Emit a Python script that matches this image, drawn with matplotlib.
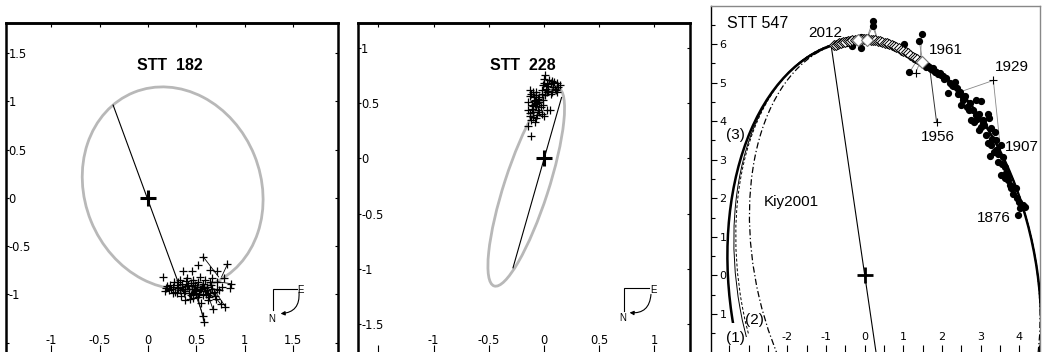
import numpy as np
import matplotlib
matplotlib.use('Agg')
import matplotlib.pyplot as plt
from matplotlib.patches import Ellipse, Polygon

plt.rcParams['font.family'] = ['Liberation Sans', 'DejaVu Sans']
plt.rcParams['axes.unicode_minus'] = False

# ---------------- data: panel 1 (STT 182) ----------------
p1_title = 'STT  182'
p1_orbit = [0.255, 0.10, 1.82, 2.14, 22.0]          # cx, cy, width, height, angle
p1_node_x = [-0.36, 0.31]
p1_node_y = [0.96, -0.87]
p1_obs_x = [0.57, 0.82, 0.15, 0.52, 0.64, 0.36, 0.45, 0.71, 0.79, 0.86, 0.76, 0.19, 0.24, 0.23,
            0.30, 0.33, 0.40, 0.47, 0.54, 0.59, 0.66, 0.71, 0.35, 0.42, 0.49, 0.54, 0.61, 0.66,
            0.71, 0.30, 0.37, 0.44, 0.50, 0.57, 0.64, 0.69, 0.38, 0.47, 0.55, 0.62, 0.75, 0.80,
            0.67, 0.57, 0.58, 0.18, 0.85, 0.27, 0.52, 0.44,
            0.20, 0.22, 0.26, 0.28, 0.31, 0.33, 0.35, 0.38, 0.40, 0.42, 0.45, 0.47, 0.49, 0.51,
            0.53, 0.55, 0.57, 0.59, 0.61, 0.63, 0.65, 0.68, 0.70, 0.73, 0.34, 0.39, 0.43, 0.48,
            0.52, 0.56, 0.60, 0.64, 0.41, 0.46, 0.50, 0.58, 0.62, 0.26, 0.31, 0.36]
p1_obs_y = [-0.61, -0.69, -0.82, -0.70, -0.75, -0.76, -0.76, -0.76, -0.83, -0.89, -0.92, -0.93,
            -0.95, -0.90, -0.90, -0.85, -0.83, -0.85, -0.82, -0.85, -0.83, -0.87, -0.92, -0.94,
            -0.90, -0.94, -0.92, -0.94, -0.95, -0.99, -0.99, -1.01, -0.99, -1.01, -0.99, -1.02,
            -1.06, -1.04, -1.09, -1.06, -1.10, -1.13, -1.15, -1.22, -1.29, -0.97, -0.93, -0.87,
            -0.87, -0.88,
            -0.91, -0.96, -0.92, -0.98, -0.93, -0.96, -0.89, -0.97, -0.91, -0.99, -0.95, -0.88,
            -0.97, -0.92, -1.00, -0.95, -0.89, -0.97, -0.96, -1.03, -0.90, -0.98, -1.05, -0.96,
            -1.02, -0.86, -1.05, -0.94, -1.03, -0.92, -1.00, -0.87, -0.90, -1.00, -0.96, -0.93,
            -1.01, -0.99, -0.87, -0.94]
p1_res_x0 = [0.57, 0.82, 0.58, 0.57, 0.67, 0.75, 0.80, 0.86]
p1_res_y0 = [-0.61, -0.69, -1.29, -1.22, -1.15, -1.10, -1.13, -0.89]
p1_res_x1 = [0.73, 0.76, 0.50, 0.48, 0.60, 0.62, 0.66, 0.72]
p1_res_y1 = [-0.82, -0.82, -0.97, -0.97, -0.95, -0.93, -0.92, -0.87]
p1_xticks = [-1, -0.5, 0, 0.5, 1, 1.5]
p1_xticklabels = ['-1', '-0.5', '0', '0.5', '1', '1.5']
p1_yticks = [-1.5, -1, -0.5, 0, 0.5, 1, 1.5]
p1_yticklabels = ['', '-1', '-0.5', '0', '0.5', '1', '1.5']

# ---------------- data: panel 2 (STT 228) ----------------
p2_title = 'STT  228'
p2_orbit = [-0.16, -0.26, 1.88, 0.40, 72.0]
p2_node_x = [-0.28, 0.16]
p2_node_y = [-0.99, 0.55]
p2_obs_x = [0.01, 0.15, 0.07, 0.00, 0.04, 0.10, -0.02, 0.03, 0.07, 0.12, 0.06, 0.01, -0.10, -0.07,
            -0.13, -0.08, -0.14, -0.04, -0.11, -0.07, -0.01, -0.14, -0.10, -0.04, 0.03, -0.13,
            -0.07, 0.00, -0.08, -0.14, -0.12, -0.05, -0.01, -0.02, 0.055, -0.13,
            0.02, 0.05, 0.08, 0.11, 0.13, -0.01, 0.04, 0.09, 0.06, 0.12, 0.00, 0.03,
            -0.12, -0.09, -0.06, -0.03, -0.11, -0.08, -0.05, -0.02, -0.13, -0.10, -0.06, -0.09,
            -0.12, -0.04, -0.07, -0.10]
p2_obs_y = [0.75, 0.66, 0.70, 0.68, 0.65, 0.63, 0.62, 0.60, 0.60, 0.68, 0.68, 0.57, 0.60, 0.57,
            0.56, 0.53, 0.51, 0.51, 0.48, 0.47, 0.48, 0.44, 0.42, 0.42, 0.44, 0.38, 0.36, 0.38,
            0.33, 0.29, 0.20, 0.54, 0.53, 0.58, 0.44, 0.62,
            0.63, 0.71, 0.64, 0.62, 0.64, 0.66, 0.61, 0.69, 0.58, 0.60, 0.72, 0.67,
            0.58, 0.55, 0.50, 0.46, 0.45, 0.49, 0.44, 0.40, 0.41, 0.37, 0.39, 0.52,
            0.35, 0.55, 0.60, 0.47]
p2_xticks = [-1.5, -1, -0.5, 0, 0.5, 1]
p2_xticklabels = ['', '-1', '-0.5', '0', '0.5', '1']
p2_yticks = [-1.5, -1, -0.5, 0, 0.5, 1]
p2_yticklabels = ['-1.5', '-1', '-0.5', '0', '0.5', '1']

# ---------------- data: panel 3 (STT 547) ----------------
p3_title = 'STT 547'
# orbit ellipses: cx, cy, width, height, angle, lowest y of the drawn arc on the left side
orb1 = [0.511, -0.441, 7.980, 13.149, -171.807, -1.25]     # (1) thick solid
orb2 = [0.592, -0.181, 7.745, 12.700, -169.828, -1.60]     # (2) thin solid
orb3 = [0.619, -0.140, 7.681, 12.639, -169.373, -1.55]     # (3) dashed
kiy = [0.781, 0.245, 7.204, 11.918, -166.911]              # Kiy2001 dash-dot
p3_node_x = [-0.86, 0.31]
p3_node_y = [5.93, -2.10]
dot_x = [0.21, 0.21, -0.10, -0.45, -0.33, 1.02, 1.48, 1.41, 1.16, -0.09, -0.46, 1.78,
         1.68, 1.77, 1.85, 1.94, 2.02, 2.11, 2.20, 2.33, 2.15, 2.28, 2.38, 2.46, 2.54, 2.50,
         2.60, 2.66, 2.72, 2.89, 3.00, 2.80, 2.88, 2.76, 2.84, 2.95, 3.06, 3.19, 3.23, 2.97,
         3.10, 3.05, 3.28, 3.36, 3.15, 3.19, 3.28, 3.41, 3.53, 3.41, 3.35, 3.25, 3.58, 3.45,
         3.62, 3.66, 3.53, 3.62, 3.71, 3.75, 3.79, 3.92, 3.85, 3.95, 4.00, 4.09, 4.05, 4.14, 3.97,
         1.55, 1.60, 1.72, 1.82, 1.90, 1.98, 2.06, 2.25, 2.42, 2.55, 2.70, 2.90, 3.02, 3.30,
         3.45, 3.55, 3.68, 3.82, 4.02, 0.62, 0.85]
dot_y = [6.59, 6.46, 5.91, 6.11, 5.96, 6.00, 6.27, 6.09, 5.27, 6.20, 6.03, 5.38,
         5.38, 5.33, 5.29, 5.25, 5.18, 5.12, 4.99, 5.03, 4.73, 4.92, 4.85, 4.77, 4.55, 4.42,
         4.65, 4.38, 4.47, 4.55, 4.53, 4.29, 4.16, 4.03, 3.99, 4.20, 4.03, 4.18, 4.08, 3.77,
         3.90, 3.95, 3.82, 3.73, 3.65, 3.43, 3.38, 3.51, 3.38, 3.25, 3.20, 3.11, 3.08, 2.95,
         2.82, 2.65, 2.60, 2.52, 2.48, 2.35, 2.26, 2.26, 2.10, 2.00, 1.91, 1.83, 1.78, 1.78, 1.57,
         5.45, 5.42, 5.35, 5.28, 5.22, 5.20, 5.10, 4.95, 4.70, 4.62, 4.30, 4.05, 3.85, 3.55,
         3.15, 2.90, 2.55, 2.30, 1.75, 5.97, 5.90]
dia_x = [-0.78, -0.74, -0.70, -0.65, -0.60, -0.55, -0.50, -0.44, -0.38, -0.32, -0.26, -0.20,
         -0.14, -0.08, -0.02, 0.04, 0.10, 0.16, 0.22, 0.28, 0.34, 0.40, 0.46, 0.52, 0.58, 0.64,
         0.70, 0.76, 0.82, 0.88, 0.94, 1.00, 1.06, 1.12, 1.18, 1.24, 1.30, 1.36, 1.42]
dia_y = [5.98, 5.99, 6.01, 6.02, 6.04, 6.05, 6.06, 6.08, 6.09, 6.10, 6.11, 6.12,
         6.12, 6.13, 6.13, 6.13, 6.13, 6.12, 6.11, 6.10, 6.09, 6.08, 6.06, 6.04, 6.02, 6.00,
         5.97, 5.95, 5.92, 5.89, 5.86, 5.83, 5.79, 5.76, 5.72, 5.68, 5.65, 5.61, 5.57]
bigdia_x = [-0.16, 0.05, 1.48]
bigdia_y = [6.11, 6.11, 5.55]
plus_x = [1.32, 1.86, 3.33, 3.50]
plus_y = [5.25, 3.99, 5.06, 3.33]
r3_x0 = [0.21, 0.21, 0.21, 0.21, 1.48, 1.41, 1.16, 1.32, 3.33, 3.33]
r3_y0 = [6.59, 6.59, 6.46, 6.46, 6.27, 6.09, 5.27, 5.25, 5.06, 5.06]
r3_x1 = [0.05, 0.33, 0.05, 0.33, 1.44, 1.50, 1.38, 1.45, 2.55, 3.50]
r3_y1 = [6.13, 6.13, 6.13, 6.13, 5.60, 5.58, 5.62, 5.58, 4.79, 3.42]
l1956_x = [1.86, 1.69]
l1956_y = [3.99, 5.33]
p3_labels = ['2012', '1961', '1929', '1956', '1907', '1876', 'Kiy2001', '(3)', '(2)', '(1)']
p3_lab_x = [-1.03, 2.09, 3.81, 1.89, 4.07, 3.34, -1.90, -3.35, -2.84, -3.35]
p3_lab_y = [6.29, 5.84, 5.40, 3.60, 3.32, 1.50, 1.89, 3.64, -1.16, -1.62]
p3_xticks = [-3, -2, -1, 0, 1, 2, 3, 4]
p3_xticklabels = ['', '-2', '-1', '0', '1', '2', '3', '4']
p3_yticks = [-1, 0, 1, 2, 3, 4, 5, 6]
p3_yticklabels = ['1', '0', '1', '2', '3', '4', '5', '6']

TICK_FONT = ['DejaVu Sans']

# ---------------- helpers ----------------
W, H = 1045, 352
fig = plt.figure(figsize=(W / 100, H / 100), dpi=100)


def add_px_axes(l, t, r, b):
    return fig.add_axes([l / W, 1 - b / H, (r - l) / W, (b - t) / H])


def style_small_panel(ax, xt, xtl, yt, ytl):
    for s in ax.spines.values():
        s.set_linewidth(1.8)
        s.set_color('black')
    ax.set_xticks(xt)
    ax.set_xticklabels(xtl)
    ax.set_yticks(yt)
    ax.set_yticklabels(ytl)
    ax.tick_params(axis='x', direction='in', length=8, width=0.8, labelsize=8.3, pad=-6.5,
                   bottom=True, top=False)
    ax.tick_params(axis='y', direction='in', length=2.5, width=0.8, labelsize=8.3, pad=-2.2,
                   left=True, right=True)
    for lab in ax.get_yticklabels():
        lab.set_horizontalalignment('left')
        lab.set_fontfamily(TICK_FONT)
    for lab in ax.get_xticklabels():
        lab.set_verticalalignment('bottom')
        lab.set_fontfamily(TICK_FONT)
    sec = ax.secondary_xaxis('top')
    sec.set_xticks(xt)
    sec.set_xticklabels([])
    sec.tick_params(direction='in', length=3, width=0.8)
    sec.spines['top'].set_linewidth(1.8)


def compass(ax, corner, e_end, n_end, e_txt, n_txt, a_start, a_end):
    ax.plot([e_end[0], corner[0], n_end[0]], [e_end[1], corner[1], n_end[1]],
            color='black', lw=0.8, solid_joinstyle='miter')
    ax.text(e_txt[0], e_txt[1], 'E', fontsize=7, ha='left', va='center')
    ax.text(n_txt[0], n_txt[1], 'N', fontsize=7, ha='center', va='center')
    ax.annotate('', xy=a_end, xytext=a_start,
                arrowprops=dict(arrowstyle='-|>', lw=0.8, color='black', mutation_scale=6,
                                shrinkA=0, shrinkB=0, connectionstyle='arc3,rad=-0.5'))


GREY = '#b8b8b8'

# ---------------- panel 1 ----------------
ax1 = add_px_axes(5.5, 23, 338, 356)
ax1.set_xlim(-1.472, 1.963)
ax1.set_ylim(-1.639, 1.811)
cx, cy, w, h, ang = p1_orbit
ax1.add_patch(Ellipse((cx, cy), w, h, angle=ang, fill=False, ec=GREY, lw=2.0, zorder=2))
ax1.plot(p1_node_x, p1_node_y, color='black', lw=0.8, zorder=3)
for x0, y0, x1, y1 in zip(p1_res_x0, p1_res_y0, p1_res_x1, p1_res_y1):
    ax1.plot([x0, x1], [y0, y1], color='black', lw=0.6, zorder=3)
ax1.plot(p1_obs_x, p1_obs_y, ls='none', marker='+', ms=6, mew=0.9, color='black', zorder=4)
ax1.plot([0], [0], marker='+', ms=11, mew=2.2, color='black', zorder=5)
ax1.text(0.23, 1.373, p1_title, fontsize=11.5, fontweight='bold', ha='center', va='center')
style_small_panel(ax1, p1_xticks, p1_xticklabels, p1_yticks, p1_yticklabels)
compass(ax1, (1.29, -0.94), (1.535, -0.94), (1.29, -1.16), (1.54, -0.955), (1.28, -1.26),
        (1.56, -0.98), (1.37, -1.20))

# ---------------- panel 2 ----------------
ax2 = add_px_axes(358, 23, 689.5, 356)
ax2.set_xlim(-1.684, 1.319)
ax2.set_ylim(-1.787, 1.223)
cx, cy, w, h, ang = p2_orbit
ax2.add_patch(Ellipse((cx, cy), w, h, angle=ang, fill=False, ec=GREY, lw=2.0, zorder=2))
ax2.plot(p2_node_x, p2_node_y, color='black', lw=0.8, zorder=3)
ax2.plot(p2_obs_x, p2_obs_y, ls='none', marker='+', ms=6, mew=0.9, color='black', zorder=4)
ax2.plot([0], [0], marker='+', ms=11, mew=2.2, color='black', zorder=5)
ax2.text(-0.19, 0.84, p2_title, fontsize=11.5, fontweight='bold', ha='center', va='center')
style_small_panel(ax2, p2_xticks, p2_xticklabels, p2_yticks, p2_yticklabels)
compass(ax2, (0.724, -1.173), (0.956, -1.173), (0.724, -1.381), (0.96, -1.19), (0.713, -1.447),
        (0.97, -1.23), (0.776, -1.395))

# ---------------- panel 3 ----------------
ax3 = add_px_axes(711, 5.7, 1040, 356)
ax3.set_xlim(-3.972, 4.536)
ax3.set_ylim(-2.096, 7.0)


def partial_orbit(par, **kw):
    cx, cy, w, h, ang, y_end = par
    e = Ellipse((cx, cy), w, h, angle=ang, fill=False, **kw)
    ax3.add_patch(e)
    # hide the part of the left branch below the last plotted orbit point
    mask = Polygon([(-10, y_end), (-1.5, y_end), (-1.5, -10), (10, -10), (10, 20), (-10, 20)],
                   closed=True, transform=ax3.transData)
    e.set_clip_path(mask)


partial_orbit(orb1, ec='black', lw=1.8, zorder=3)
partial_orbit(orb2, ec='black', lw=0.7, zorder=3)
partial_orbit(orb3, ec='black', lw=0.7, ls=(0, (3, 2)), zorder=3)
ax3.add_patch(Ellipse(kiy[:2], kiy[2], kiy[3], angle=kiy[4], fill=False, ec='black', lw=0.9,
                      ls=(0, (5, 2, 1, 2)), zorder=3))
ax3.plot(p3_node_x, p3_node_y, color='black', lw=0.8, zorder=3)
for x0, y0, x1, y1 in zip(r3_x0, r3_y0, r3_x1, r3_y1):
    ax3.plot([x0, x1], [y0, y1], color='#888888', lw=0.6, zorder=3)
ax3.plot(l1956_x, l1956_y, color='#333333', lw=0.7, zorder=3)
ax3.plot(dot_x, dot_y, ls='none', marker='o', ms=4.2, color='black', zorder=5)
ax3.plot(dia_x, dia_y, ls='none', marker='D', ms=5.5, mfc='white', mec='black', mew=0.7, zorder=6)
ax3.plot(bigdia_x, bigdia_y, ls='none', marker='D', ms=6.5, mfc='white', mec='#777777', mew=0.8,
         zorder=7)
ax3.plot(plus_x, plus_y, ls='none', marker='+', ms=5.5, mew=0.8, color='black', zorder=6)
ax3.plot([0], [0], marker='+', ms=11, mew=2.0, color='black', zorder=6)
ax3.text(-3.57, 6.53, p3_title, fontsize=11.5, ha='left', va='center')
for t, x, y in zip(p3_labels, p3_lab_x, p3_lab_y):
    ax3.text(x, y, t, fontsize=11, ha='center', va='center', zorder=8)

for s in ['top', 'right', 'bottom']:
    ax3.spines[s].set_color('#888888')
    ax3.spines[s].set_linewidth(1.0)
ax3.spines['left'].set_color('black')
ax3.spines['left'].set_linewidth(1.0)
ax3.set_xticks(p3_xticks)
ax3.set_xticklabels(p3_xticklabels)
ax3.set_xticks(np.arange(-3.5, 4.6, 1.0), minor=True)
ax3.set_yticks(p3_yticks)
ax3.set_yticklabels(p3_yticklabels)
ax3.set_yticks(np.arange(-1.5, 6.6, 1.0), minor=True)
ax3.tick_params(axis='x', which='both', direction='in', length=8, width=0.8, labelsize=8, pad=-10)
ax3.tick_params(axis='y', which='major', direction='in', length=4.5, width=0.8, labelsize=8, pad=-6)
ax3.tick_params(axis='y', which='minor', direction='in', length=3, width=0.8)
for lab in ax3.get_yticklabels():
    lab.set_horizontalalignment('left')
    lab.set_fontfamily(TICK_FONT)
for lab in ax3.get_xticklabels():
    lab.set_verticalalignment('bottom')
    lab.set_fontfamily(TICK_FONT)

fig.savefig('out.png', dpi=100)
